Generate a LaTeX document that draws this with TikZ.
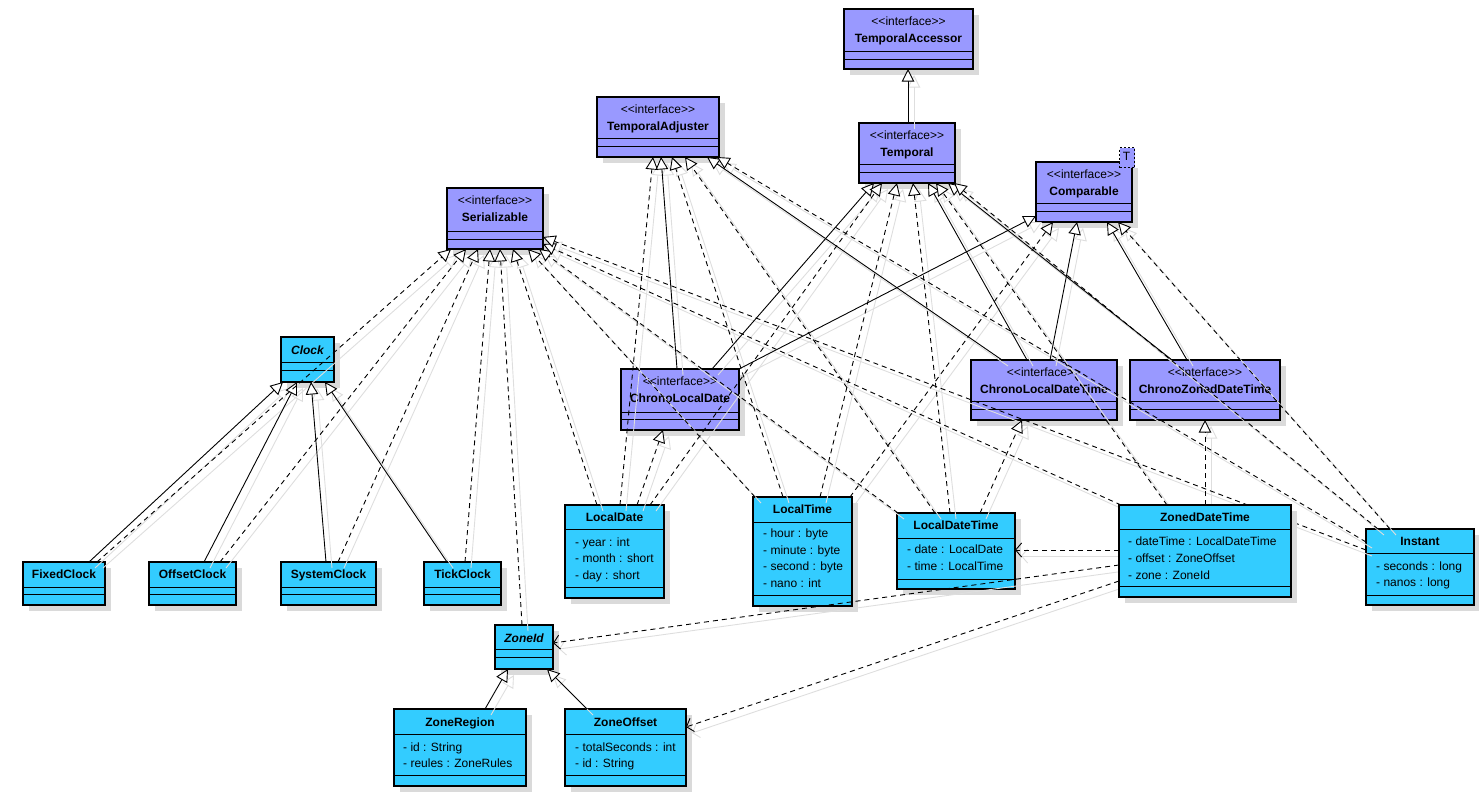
\documentclass[tikz,border=0pt]{standalone}
\usepackage{fontspec}
\setmainfont{Liberation Sans}
\usetikzlibrary{arrows.meta}
\definecolor{ifc}{RGB}{153,153,255}
\definecolor{cls}{RGB}{51,204,255}
\definecolor{shd}{RGB}{218,218,218}
\pgfdeclarelayer{bg}\pgfdeclarelayer{ghostl}\pgfdeclarelayer{front}
\pgfsetlayers{bg,ghostl,main,front}
\tikzset{
  box/.style={draw=black, line width=2pt, inner sep=0pt, outer sep=0pt},
  divl/.style={line width=1pt},
  txt/.style={font=\fontsize{12}{14}\selectfont, inner sep=0pt, text height=8.6pt, text depth=2.4pt},
  ttl/.style={txt, font=\fontsize{12}{14}\selectfont\bfseries},
  ttli/.style={txt, font=\fontsize{12}{14}\selectfont\bfseries\itshape},
  gen/.style={-{Triangle[length=12.5pt,width=12.5pt,fill=white]}, line width=0.9pt},
  real/.style={gen, dash pattern=on 5pt off 4pt},
  dep/.style={-{Straight Barb[length=6pt,width=14pt]}, line width=0.9pt, dash pattern=on 5pt off 4pt},
  ghost/.style={solid, draw=black!13, transform canvas={shift={(6pt,-6pt)}}}
}
% box: name, fill, x1, y1, x2, y2, d1, d2
\newcommand\umlbox[8]{%
  \fill[shd] (#3+6,#4+6) rectangle (#5+6,#6+6);
  \node[box, fill=#2, minimum width={(#5-#3)*1pt}, minimum height={(#6-#4)*1pt}, anchor=north west] (#1) at (#3,#4) {};
  \draw[divl] (#3,#7) -- (#5,#7) (#3,#8) -- (#5,#8);}
% interface box: name, x1,y1,x2,y2,d1,d2
\newcommand\ifbox[7]{%
  \umlbox{#1}{ifc}{#2}{#3}{#4}{#5}{#6}{#7}
  \node[txt] (#1-s) at ({(#2+#4)/2},#3+13.5) {<\kern0pt<interface>\kern0pt>};
  \node[ttl] (#1-n) at ({(#2+#4)/2},#3+30.5) {#1};}
% class box: name, x1,y1,x2,y2,d1,d2, title y
\newcommand\clbox[8]{%
  \umlbox{#1}{cls}{#2}{#3}{#4}{#5}{#6}{#7}
  \node[ttl] (#1-n) at ({(#2+#4)/2},#8) {#1};}
\newcommand\abbox[8]{%
  \umlbox{#1}{cls}{#2}{#3}{#4}{#5}{#6}{#7}
  \node[ttli] (#1-n) at ({(#2+#4)/2},#8) {#1};}
% attribute: box, index, x, y, text
\newcommand\attr[5]{\node[txt, anchor=west] (#1-a#2) at (#3,#4) {#5};}
\newcommand\conn[3]{%
  \begin{pgfonlayer}{ghostl}\draw[#1, ghost] #2 -- #3;\end{pgfonlayer}
  \draw[#1] #2 -- #3;}
\begin{document}
\begin{tikzpicture}[x=1pt, y=-1pt]
\useasboundingbox (0,0) rectangle (1479,793);
\begin{pgfonlayer}{bg}
\ifbox{TemporalAccessor}{844}{9}{973}{69}{51}{59}
\ifbox{TemporalAdjuster}{597}{97}{719}{157}{138}{146}
\ifbox{Temporal}{859}{123}{955}{183}{164}{172}
\ifbox{Comparable}{1036}{162}{1132}{222}{203}{211}
\node[draw, fill=ifc, line width=1pt, dash pattern=on 2pt off 2pt, minimum width=15pt, minimum height=20pt, anchor=north west, txt, text height=8.6pt] (T) at (1119,147) {};
\node[txt] (T-t) at (1126.5,157) {T};
\ifbox{Serializable}{447}{188}{543}{249}{231}{239}
\ifbox{ChronoLocalDate}{621}{369}{739}{430}{412}{419}
\ifbox{ChronoLocalDateTime}{971}{360}{1117}{420}{401}{409}
\ifbox{ChronoZonedDateTime}{1130}{360}{1280}{420}{401}{409}
\abbox{Clock}{281}{337}{334}{382}{362}{370}{351.5}
\clbox{FixedClock}{23}{562}{105}{605}{587}{594}{575.5}
\clbox{OffsetClock}{149}{562}{236}{605}{587}{594}{575.5}
\clbox{SystemClock}{281}{562}{376}{605}{587}{594}{575.5}
\clbox{TickClock}{424}{562}{501}{605}{587}{594}{575.5}
\clbox{LocalDate}{565}{505}{664}{598}{529}{587}{518}
\attr{LocalDate}{1}{575}{543}{- year : int}
\attr{LocalDate}{2}{575}{559.5}{- month : short}
\attr{LocalDate}{3}{575}{576}{- day : short}
\clbox{LocalTime}{753}{497}{852}{606}{522}{595}{510.5}
\attr{LocalTime}{1}{763}{534}{- hour : byte}
\attr{LocalTime}{2}{763}{551}{- minute : byte}
\attr{LocalTime}{3}{763}{567.5}{- second : byte}
\attr{LocalTime}{4}{763}{584}{- nano : int}
\clbox{LocalDateTime}{897}{513}{1015}{589}{538}{579}{526}
\attr{LocalDateTime}{1}{907}{550.5}{- date : LocalDate}
\attr{LocalDateTime}{2}{907}{567.5}{- time : LocalTime}
\clbox{Instant}{1366}{529}{1474}{605}{553}{595}{542.5}
\attr{Instant}{1}{1376}{567.5}{- seconds : long}
\attr{Instant}{2}{1376}{583.5}{- nanos : long}
\abbox{ZoneId}{495}{625}{553}{669}{649}{657}{639}
\clbox{ZoneRegion}{394}{709}{526}{786}{734}{775}{723}
\attr{ZoneRegion}{1}{403}{748}{- id : String}
\attr{ZoneRegion}{2}{403}{764.5}{- reules : ZoneRules}
\clbox{ZoneOffset}{565}{709}{686}{786}{734}{775}{723}
\attr{ZoneOffset}{1}{575}{748}{- totalSeconds : int}
\attr{ZoneOffset}{2}{575}{764.5}{- id : String}
\end{pgfonlayer}
\begin{pgfonlayer}{front}
\clbox{ZonedDateTime}{1119}{505}{1291}{597}{529}{586}{518}
\attr{ZonedDateTime}{1}{1128}{542.5}{- dateTime : LocalDateTime}
\attr{ZonedDateTime}{2}{1128}{559.5}{- offset : ZoneOffset}
\attr{ZonedDateTime}{3}{1128}{576}{- zone : ZoneId}
\end{pgfonlayer}
% connectors
\conn{gen}{(Temporal.north -| 908,0)}{(TemporalAccessor.south -| 908,0)}
\conn{gen}{(FixedClock.north -| 89,0)}{(Clock.south -| 283,0)}
\conn{gen}{(OffsetClock.north -| 204,0)}{(Clock.south -| 297,0)}
\conn{gen}{(SystemClock.north -| 326,0)}{(Clock.south -| 311,0)}
\conn{gen}{(TickClock.north -| 447,0)}{(Clock.south -| 325,0)}
\conn{real}{(FixedClock.north -| 97,0)}{(Serializable.south -| 451,0)}
\conn{real}{(OffsetClock.north -| 220,0)}{(Serializable.south -| 466,0)}
\conn{real}{(SystemClock.north -| 338,0)}{(Serializable.south -| 478,0)}
\conn{real}{(TickClock.north -| 465,0)}{(Serializable.south -| 490,0)}
\conn{real}{(ZoneId.north -| 522,0)}{(Serializable.south -| 500,0)}
\conn{real}{(LocalDate.north -| 597,0)}{(Serializable.south -| 513,0)}
\conn{real}{(LocalTime.north -| 755,0)}{(Serializable.south -| 528,0)}
\conn{real}{(LocalDateTime.north -| 898,0)}{(Serializable.south -| 539,0)}
\conn{real}{(ZonedDateTime.north -| 1121,0)}{(Serializable.east |- 0,244)}
\conn{real}{(Instant.west |- 0,550)}{(Serializable.east |- 0,237)}
\conn{real}{(LocalDate.north -| 620,0)}{(TemporalAdjuster.south -| 653,0)}
\conn{gen}{(ChronoLocalDate.north -| 677,0)}{(TemporalAdjuster.south -| 661,0)}
\conn{real}{(LocalTime.north -| 783,0)}{(TemporalAdjuster.south -| 672,0)}
\conn{real}{(LocalDateTime.north -| 935,0)}{(TemporalAdjuster.south -| 685,0)}
\conn{gen}{(ChronoLocalDateTime.north -| 1002,0)}{(TemporalAdjuster.south -| 707,0)}
\conn{real}{(Instant.west |- 0,542)}{(TemporalAdjuster.south -| 717,0)}
\conn{gen}{(ChronoLocalDate.north -| 712,0)}{(Temporal.south -| 874,0)}
\conn{real}{(LocalDate.north -| 650,0)}{(Temporal.south -| 882,0)}
\conn{real}{(LocalTime.north -| 820,0)}{(Temporal.south -| 897,0)}
\conn{real}{(LocalDateTime.north -| 950,0)}{(Temporal.south -| 913,0)}
\conn{gen}{(ChronoLocalDateTime.north -| 1027,0)}{(Temporal.south -| 928,0)}
\conn{real}{(ZonedDateTime.north -| 1167,0)}{(Temporal.south -| 936,0)}
\conn{gen}{(ChronoZonedDateTime.north -| 1172,0)}{(Temporal.south -| 948,0)}
\conn{real}{(Instant.north -| 1378,0)}{(Temporal.south -| 954,0)}
\conn{gen}{(ChronoLocalDate.north east)}{(Comparable.west |- 0,216)}
\conn{real}{(LocalTime.north -| 850,0)}{(Comparable.south -| 1053,0)}
\conn{gen}{(ChronoLocalDateTime.north -| 1050,0)}{(Comparable.south -| 1077,0)}
\conn{gen}{(ChronoZonedDateTime.north -| 1187,0)}{(Comparable.south -| 1107,0)}
\conn{real}{(Instant.north -| 1390,0)}{(Comparable.south -| 1118,0)}
\conn{real}{(LocalDate.north -| 637,0)}{(ChronoLocalDate.south -| 663,0)}
\conn{real}{(LocalDateTime.north -| 980,0)}{(ChronoLocalDateTime.south -| 1022,0)}
\conn{real}{(ZonedDateTime.north -| 1205,0)}{(ChronoZonedDateTime.south -| 1205,0)}
\conn{dep}{(ZonedDateTime.west |- 0,550)}{(LocalDateTime.east |- 0,550)}
\conn{dep}{(ZonedDateTime.west |- 0,565)}{(ZoneId.east |- 0,643)}
\conn{dep}{(ZonedDateTime.west |- 0,581)}{(ZoneOffset.east |- 0,727)}
\conn{gen}{(ZoneRegion.north -| 485,0)}{(ZoneId.south -| 508,0)}
\conn{gen}{(ZoneOffset.north -| 587,0)}{(ZoneId.south -| 547,0)}
\end{tikzpicture}
\end{document}
